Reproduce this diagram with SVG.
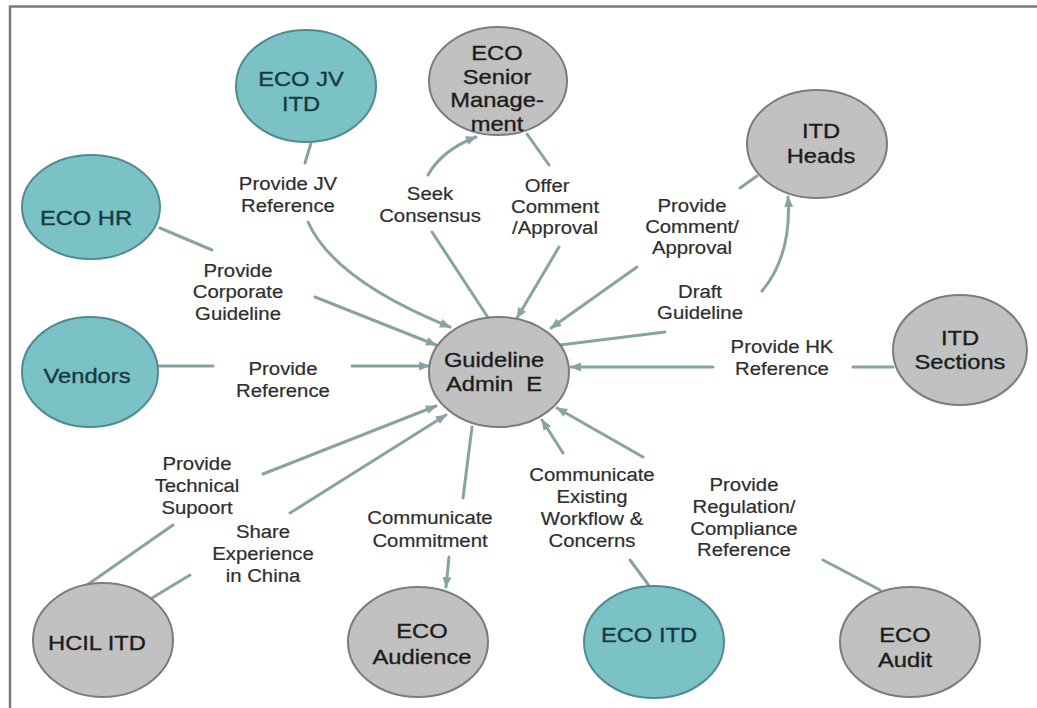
<svg xmlns="http://www.w3.org/2000/svg" width="1037" height="708" viewBox="0 0 1037 708">
  <defs>
    <marker id="arrow" markerUnits="userSpaceOnUse" markerWidth="12" markerHeight="10" refX="10" refY="5" orient="auto">
      <path d="M0,0.5 L11,5 L0,9.5 Z" fill="#88a3a4"/>
    </marker>
    <style>
      .frame { stroke: #7b7b7b; stroke-width: 2.5; fill: none; }
      .teal { fill: #7bc2c7; stroke: #4f8b90; stroke-width: 2; }
      .grey { fill: #c1c1c1; stroke: #7c7c7c; stroke-width: 2; }
      .nl { font-family: "Liberation Sans", Arial, sans-serif; font-size: 21px; text-anchor: middle; fill: #1c1c1c; stroke: #1c1c1c; stroke-width: 0.35; }
      .nlt { fill: #163a3e; stroke: #163a3e; }
      .el { font-family: "Liberation Sans", Arial, sans-serif; font-size: 18px; text-anchor: middle; fill: #2e2e2e; stroke: #2e2e2e; stroke-width: 0.2; }
      .c { fill: none; stroke: #88a3a4; stroke-width: 3; stroke-linecap: round; }
      .a { marker-end: url(#arrow); }
    </style>
  </defs>

  <rect width="1037" height="708" fill="#ffffff"/>
  <!-- outer frame: top and left edges only -->
  <path class="frame" d="M10,708 L10,6.5 L1037,6.5"/>

  <!-- connectors -->
  <g id="connectors">
    <path class="c" d="M311,143 L305,163"/>
    <path class="c a" d="M308,222 Q334,280 450,327"/>
    <path class="c" d="M160,228 L212,250"/>
    <path class="c a" d="M315,297 L436,345"/>
    <path class="c" d="M432,232 L489,319"/>
    <path class="c a" d="M428,175 Q442,150 476,137"/>
    <path class="c" d="M527,134 L549,165"/>
    <path class="c a" d="M559,247 L517,318"/>
    <path class="c" d="M757,176 L740,188"/>
    <path class="c a" d="M637,267 L551,328"/>
    <path class="c" d="M560,345 L665,332"/>
    <path class="c a" d="M762,291 Q792,255 788,197"/>
    <path class="c" d="M893,367 L853,367"/>
    <path class="c a" d="M713,367 L571,367"/>
    <path class="c" d="M158,366 L213,366"/>
    <path class="c a" d="M352,366 L429,366"/>
    <path class="c" d="M87,585 L173,525"/>
    <path class="c a" d="M263,474 L436,406"/>
    <path class="c" d="M152,598 L190,575"/>
    <path class="c a" d="M290,513 L446,415"/>
    <path class="c" d="M472,427 L463,498"/>
    <path class="c a" d="M449,557 L446,587"/>
    <path class="c" d="M650,587 L630,560"/>
    <path class="c a" d="M563,453 L542,420"/>
    <path class="c a" d="M643,457 L557,408"/>
    <path class="c" d="M880,590 L823,560"/>
  </g>

  <!-- connector labels -->
  <g id="labels">
    <text class="el" transform="translate(288 0) scale(1.13 1)"><tspan x="0" y="190">Provide JV</tspan><tspan x="0" y="212">Reference</tspan></text>
    <text class="el" transform="translate(430 0) scale(1.13 1)"><tspan x="0" y="200">Seek</tspan><tspan x="0" y="222">Consensus</tspan></text>
    <text class="el" transform="translate(555 0) scale(1.13 1)"><tspan x="-7" y="192">Offer</tspan><tspan x="0" y="213">Comment</tspan><tspan x="0" y="234">/Approval</tspan></text>
    <text class="el" transform="translate(692 0) scale(1.13 1)"><tspan x="0" y="212">Provide</tspan><tspan x="0" y="233">Comment/</tspan><tspan x="0" y="254">Approval</tspan></text>
    <text class="el" transform="translate(700 0) scale(1.13 1)"><tspan x="0" y="298">Draft</tspan><tspan x="0" y="319">Guideline</tspan></text>
    <text class="el" transform="translate(782 0) scale(1.13 1)"><tspan x="0" y="353">Provide HK</tspan><tspan x="0" y="375">Reference</tspan></text>
    <text class="el" transform="translate(238 0) scale(1.13 1)"><tspan x="0" y="277">Provide</tspan><tspan x="0" y="298">Corporate</tspan><tspan x="0" y="320">Guideline</tspan></text>
    <text class="el" transform="translate(283 0) scale(1.13 1)"><tspan x="0" y="375">Provide</tspan><tspan x="0" y="397">Reference</tspan></text>
    <text class="el" transform="translate(197 0) scale(1.13 1)"><tspan x="0" y="470">Provide</tspan><tspan x="0" y="492">Technical</tspan><tspan x="0" y="514">Supoort</tspan></text>
    <text class="el" transform="translate(263 0) scale(1.13 1)"><tspan x="0" y="538">Share</tspan><tspan x="0" y="560">Experience</tspan><tspan x="0" y="582">in China</tspan></text>
    <text class="el" transform="translate(430 0) scale(1.13 1)"><tspan x="0" y="524">Communicate</tspan><tspan x="0" y="547">Commitment</tspan></text>
    <text class="el" transform="translate(592 0) scale(1.13 1)"><tspan x="0" y="481">Communicate</tspan><tspan x="0" y="503">Existing</tspan><tspan x="0" y="525">Workflow &amp;</tspan><tspan x="0" y="547">Concerns</tspan></text>
    <text class="el" transform="translate(744 0) scale(1.13 1)"><tspan x="0" y="491">Provide</tspan><tspan x="0" y="513">Regulation/</tspan><tspan x="0" y="535">Compliance</tspan><tspan x="0" y="556">Reference</tspan></text>
  </g>

  <!-- nodes -->
  <g id="eco-jv-itd">
    <ellipse class="teal" cx="306" cy="86" rx="70" ry="56"/>
    <text class="nl nlt" transform="translate(301 0) scale(1.13 1)"><tspan x="0" y="86">ECO JV</tspan><tspan x="0" y="111">ITD</tspan></text>
  </g>
  <g id="eco-senior-management">
    <ellipse class="grey" cx="498" cy="81" rx="69" ry="54"/>
    <text class="nl" transform="translate(497 0) scale(1.13 1)"><tspan x="0" y="60">ECO</tspan><tspan x="0" y="84">Senior</tspan><tspan x="0" y="107">Manage-</tspan><tspan x="0" y="131">ment</tspan></text>
  </g>
  <g id="eco-hr">
    <ellipse class="teal" cx="91" cy="207" rx="69" ry="52"/>
    <text class="nl nlt" transform="translate(86 0) scale(1.13 1)"><tspan x="0" y="225">ECO HR</tspan></text>
  </g>
  <g id="itd-heads">
    <ellipse class="grey" cx="817" cy="144" rx="70" ry="54"/>
    <text class="nl" transform="translate(821 0) scale(1.13 1)"><tspan x="0" y="138">ITD</tspan><tspan x="0" y="163">Heads</tspan></text>
  </g>
  <g id="vendors">
    <ellipse class="teal" cx="90" cy="372" rx="68" ry="55"/>
    <text class="nl nlt" transform="translate(87 0) scale(1.13 1)"><tspan x="0" y="383">Vendors</tspan></text>
  </g>
  <g id="guideline-admin">
    <ellipse class="grey" cx="499" cy="372" rx="70" ry="55"/>
    <text class="nl" xml:space="preserve" transform="translate(494 0) scale(1.13 1)"><tspan x="0" y="367">Guideline</tspan><tspan x="0" y="391">Admin  E</tspan></text>
  </g>
  <g id="itd-sections">
    <ellipse class="grey" cx="960" cy="350" rx="67" ry="55"/>
    <text class="nl" transform="translate(960 0) scale(1.13 1)"><tspan x="0" y="345">ITD</tspan><tspan x="0" y="369">Sections</tspan></text>
  </g>
  <g id="hcil-itd">
    <ellipse class="grey" cx="103" cy="640" rx="70" ry="57"/>
    <text class="nl" transform="translate(97 0) scale(1.13 1)"><tspan x="0" y="650">HCIL ITD</tspan></text>
  </g>
  <g id="eco-audience">
    <ellipse class="grey" cx="418" cy="642" rx="70" ry="55"/>
    <text class="nl" transform="translate(422 0) scale(1.13 1)"><tspan x="0" y="638">ECO</tspan><tspan x="0" y="664">Audience</tspan></text>
  </g>
  <g id="eco-itd">
    <ellipse class="teal" cx="654" cy="642" rx="70" ry="56"/>
    <text class="nl nlt" transform="translate(649 0) scale(1.13 1)"><tspan x="0" y="642">ECO ITD</tspan></text>
  </g>
  <g id="eco-audit">
    <ellipse class="grey" cx="910" cy="642" rx="70" ry="55"/>
    <text class="nl" transform="translate(905 0) scale(1.13 1)"><tspan x="0" y="642">ECO</tspan><tspan x="0" y="667">Audit</tspan></text>
  </g>
</svg>
